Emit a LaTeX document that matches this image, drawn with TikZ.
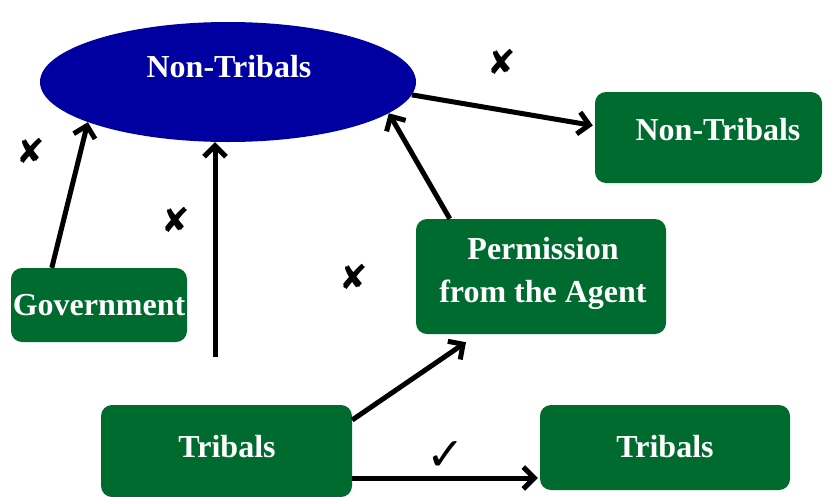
\documentclass[tikz,border=0pt]{standalone}
\usepackage{fontspec}
\setmainfont{Liberation Serif}
\newfontfamily\symfont{DejaVu Sans}
\usetikzlibrary{shapes.geometric,arrows.meta,calc}
\definecolor{boxgreen}{RGB}{0,107,46}
\definecolor{navy}{RGB}{0,0,160}
\begin{document}
\begin{tikzpicture}[x=1pt,y=-1pt,
  lbl/.style={text=white,font=\fontsize{32}{43}\selectfont\bfseries,align=center},
  gbox/.style={lbl,fill=boxgreen,rounded corners=11pt,inner sep=0pt},
  arr/.style={line width=5pt,-{Straight Barb[length=11pt,width=22pt,line width=5pt]}},
  nomark/.style={font=\symfont\fontsize{34}{34}\selectfont},
  yesmark/.style={font=\symfont\fontsize{46}{46}\selectfont}]
\useasboundingbox (0,0) rectangle (833,496);

% nodes
\node[lbl,ellipse,fill=navy,minimum width=376pt,minimum height=120pt,inner sep=0pt] (nt) at (228,82) {};
\node[lbl] at (229,67) {Non-Tribals};
\node[gbox,minimum width=227pt,minimum height=91pt] (nt2) at (708.5,137.5) {};
\node[lbl] at (718,130) {Non-Tribals};
\node[gbox,minimum width=250pt,minimum height=115pt] (perm) at (541,276.5) {};
\node[lbl] at (543,273) {Permission\\from the Agent};
\node[gbox,minimum width=176pt,minimum height=74pt] (gov) at (99,305) {Government};
\node[gbox,minimum width=251pt,minimum height=92pt] (trL) at (226.5,451) {};
\node[lbl] at (227,447) {Tribals};
\node[gbox,minimum width=250pt,minimum height=85pt] (trR) at (665,447.5) {};
\node[lbl] at (665,447) {Tribals};

\coordinate (v0) at (215,357);

% connectors
\draw[arr] ($(gov.north west)+(41,0)$) -- (nt.196);
\draw[arr] (v0) -- (v0 |- nt.south);
\draw[arr] ($(perm.north west)+(34,0)$) -- (nt.-11);
\draw[arr] (nt.-4) -- ($(nt2.west)+(-2,-12)$);
\draw[arr] ($(trL.east)+(0,-31)$) -- ($(perm.south)+(-75,8)$);
\draw[arr] ($(trL.east)+(0,27)$) -- ($(trR.west)+(-2,30.5)$);

% marks
\node[nomark] (m1) at (502,62) {✘};
\node[nomark] (m2) at (31,151) {✘};
\node[nomark] (m3) at (176,220) {✘};
\node[nomark] (m4) at (354,277) {✘};
\node[yesmark] (ok) at (446,456) {✓};
\end{tikzpicture}
\end{document}
